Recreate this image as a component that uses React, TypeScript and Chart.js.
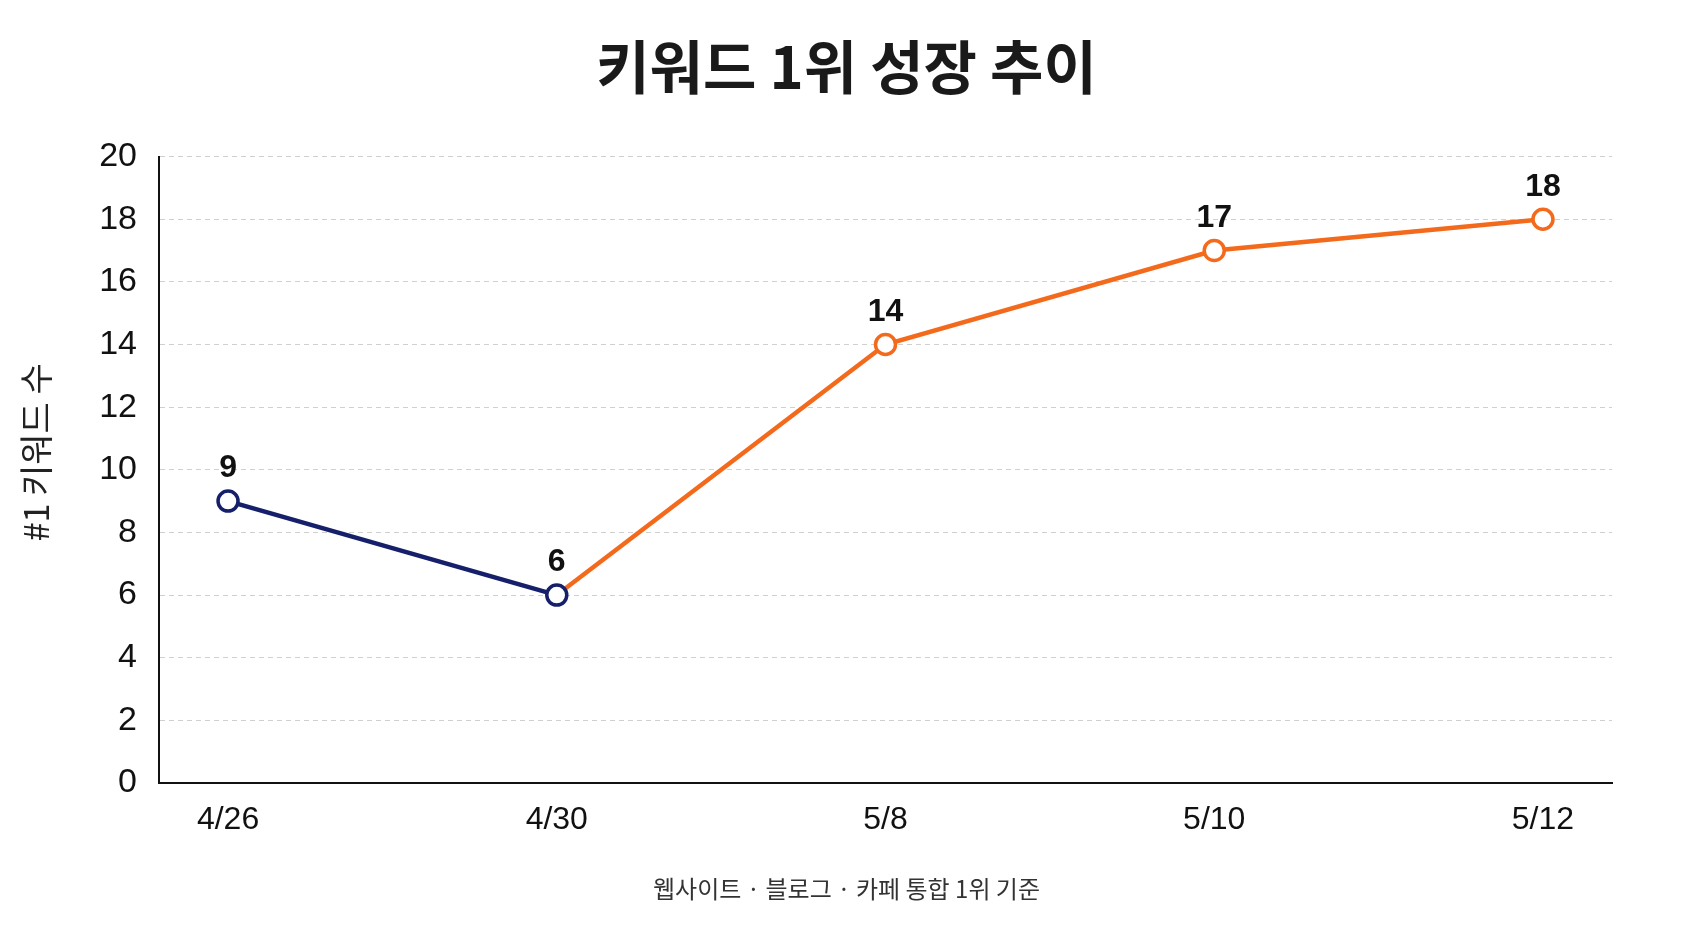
import React, { useEffect, useRef } from "react";
import { Chart, registerables } from "chart.js";

Chart.register(...registerables);

// Dates on the x axis and the count of #1-ranked keywords on each date
const dateLabels = ["4/26", "4/30", "5/8", "5/10", "5/12"];
const topKeywordCounts = [9, 6, 14, 17, 18];

// Y axis range and tick spacing
const yAxisMax = 20;
const yAxisStep = 2;

const titleText = "키워드 1위 성장 추이";
const yAxisTitle = "#1 키워드 수";
const footnoteText = "웹사이트 · 블로그 · 카페 통합 1위 기준";

const NAVY = "#16206a";
const ORANGE = "#f46a1c";
const LATIN = "'Liberation Sans', Arial, 'Noto Sans CJK KR', sans-serif";
const KOREAN = "'Noto Sans CJK KR', 'Noto Sans', sans-serif";

// Draws each point's value above its marker
const valueLabelPlugin = {
  id: "valueLabels",
  afterDatasetsDraw(chart: any) {
    const meta = chart.getDatasetMeta(0);
    const ctx = chart.ctx;
    ctx.save();
    ctx.font = `bold 32px ${LATIN}`;
    ctx.fillStyle = "#111111";
    ctx.textAlign = "center";
    ctx.textBaseline = "middle";
    meta.data.forEach((pt: any, i: number) => {
      ctx.fillText(String(topKeywordCounts[i]), pt.x, pt.y - 32.5);
    });
    ctx.restore();
  },
};

// Rotated y axis caption, placed a little above the middle of the plot
const yCaptionPlugin = {
  id: "yCaption",
  afterDraw(chart: any) {
    const { ctx, chartArea } = chart;
    const cy = chartArea.top + (chartArea.bottom - chartArea.top) * 0.472;
    ctx.save();
    ctx.translate(36, cy);
    ctx.rotate(-Math.PI / 2);
    ctx.font = `34px ${KOREAN}`;
    ctx.fillStyle = "#222222";
    ctx.textAlign = "center";
    ctx.textBaseline = "middle";
    ctx.fillText(yAxisTitle, 0, 0);
    ctx.restore();
  },
};

export default function App() {
  const canvasRef = useRef<HTMLCanvasElement | null>(null);

  useEffect(() => {
    if (!canvasRef.current) return;
    const points = topKeywordCounts.map((v, i) => ({ x: i, y: v }));
    const chart = new Chart(canvasRef.current, {
      type: "line",
      data: {
        datasets: [
          {
            data: points,
            borderWidth: 4.5,
            borderColor: ORANGE,
            segment: {
              borderColor: (ctx: any) => (ctx.p0DataIndex < 1 ? NAVY : ORANGE),
            },
            pointRadius: 10,
            pointHoverRadius: 10,
            pointBorderWidth: 3.5,
            pointBackgroundColor: "#ffffff",
            pointBorderColor: topKeywordCounts.map((_, i) => (i < 2 ? NAVY : ORANGE)),
            tension: 0,
            clip: false as any,
          },
        ],
      },
      options: {
        animation: false,
        responsive: true,
        maintainAspectRatio: false,
        devicePixelRatio: 1,
        layout: { padding: 0 },
        plugins: {
          legend: { display: false },
          tooltip: { enabled: false },
          title: {
            display: true,
            text: titleText,
            color: "#1a1a1a",
            font: { family: KOREAN, size: 58, weight: "bold" },
            padding: { top: 32.2, bottom: 54.8 },
          },
          subtitle: {
            display: true,
            position: "bottom",
            text: footnoteText,
            color: "#333333",
            font: { family: KOREAN, size: 24 },
            padding: { top: 0, bottom: 25.5 },
          },
        },
        scales: {
          x: {
            type: "linear",
            min: -0.21,
            max: 4.21,
            grid: { display: false, drawTicks: false },
            border: { display: true, color: "#111111", width: 2 },
            ticks: {
              autoSkip: false,
              padding: 18,
              color: "#111111",
              font: { family: LATIN, size: 32 },
              callback: (value: any) => dateLabels[value] ?? "",
            },
            afterBuildTicks: (scale: any) => {
              scale.ticks = dateLabels.map((_, i) => ({ value: i }));
            },
            afterFit: (scale: any) => {
              scale.height = 91.7;
              scale.paddingLeft = 0;
              scale.paddingRight = 81;
            },
          },
          y: {
            min: 0,
            max: yAxisMax,
            grid: {
              display: true,
              drawTicks: false,
              color: "#d0d0d0",
              lineWidth: 1,
            },
            border: { display: true, color: "#111111", width: 2, dash: [5, 4] },
            ticks: {
              stepSize: yAxisStep,
              padding: 22,
              color: "#111111",
              font: { family: LATIN, size: 34 },
            },
            title: { display: false },
            afterFit: (scale: any) => {
              scale.width = 159;
            },
          },
        },
      },
      plugins: [valueLabelPlugin, yCaptionPlugin],
    });
    return () => chart.destroy();
  }, []);

  return (
    <div
      style={{
        position: "absolute",
        left: 0,
        top: 0,
        width: 1693,
        height: 929,
        background: "#ffffff",
      }}
    >
      <canvas ref={canvasRef} />
    </div>
  );
}
